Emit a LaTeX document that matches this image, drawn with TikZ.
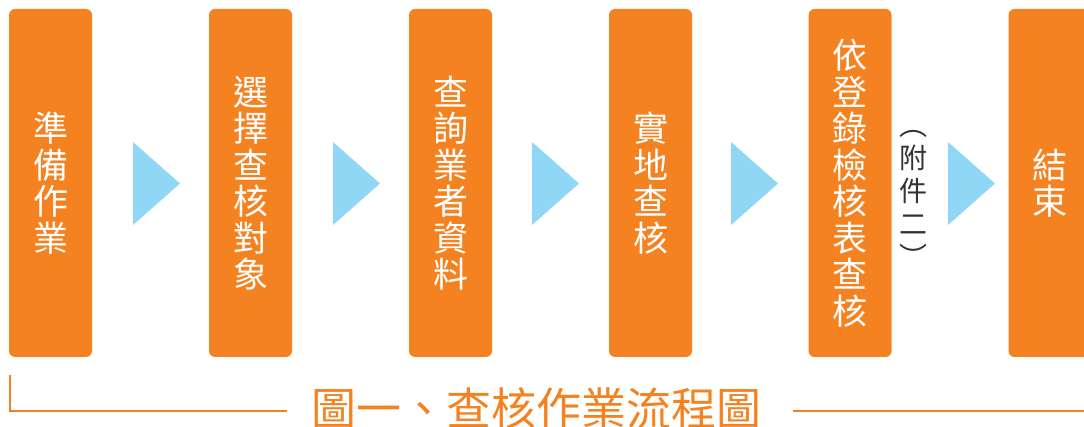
\documentclass[tikz,border=0pt]{standalone}
\usepackage{fontspec}
\newfontfamily\cjk{Noto Sans CJK TC}
\definecolor{boxorange}{HTML}{F58220}
\definecolor{arrowblue}{HTML}{8FD7F5}
\definecolor{notegray}{HTML}{333333}
\begin{document}
\begin{tikzpicture}[x=1pt,y=-1pt,
  stepbox/.style={fill=boxorange, rounded corners=6pt, minimum width=83pt, minimum height=348pt,
    inner sep=0pt, text=white, font=\cjk\fontsize{35}{36.5}\selectfont, align=center},
  tri/.style={fill=arrowblue},
  noteline/.style={draw=boxorange, line width=2pt},
  notetext/.style={text=notegray, font=\cjk\fontsize{28}{33}\selectfont, align=center, inner sep=0pt},
  titletext/.style={text=boxorange, font=\cjk\fontsize{45}{45}\selectfont, inner sep=0pt}]
\useasboundingbox (0,0) rectangle (1084,427);
\node[stepbox] (s1) at (50.5,183) {準\\備\\作\\業};
\node[stepbox] (s2) at (250.5,183) {選\\擇\\查\\核\\對\\象};
\node[stepbox] (s3) at (450.5,183) {查\\詢\\業\\者\\資\\料};
\node[stepbox] (s4) at (650.5,183) {實\\地\\查\\核};
\node[stepbox] (s5) at (850,183) {依\\登\\錄\\檢\\核\\表\\查\\核};
\node[stepbox] (s6) at (1050,183) {結\\束};
\node[notetext] (note) at (913,199) {︵\\附\\件\\二\\︶};
\foreach \x in {133,333,532,731,948}{
  \fill[tri] (\x,142) -- (\x+47,183.5) -- (\x,225) -- cycle;
}
\node[titletext] (title) at (536.5,408) {圖一、查核作業流程圖};
\coordinate (l0) at (10,375);
\coordinate (l1) at (10,411);
\coordinate (l2) at (287,411);
\coordinate (r1) at (793,411);
\coordinate (r2) at (1084,411);
\draw[noteline] (l0) -- (l1) -- (l2);
\draw[noteline] (r1) -- (r2);
\end{tikzpicture}
\end{document}
